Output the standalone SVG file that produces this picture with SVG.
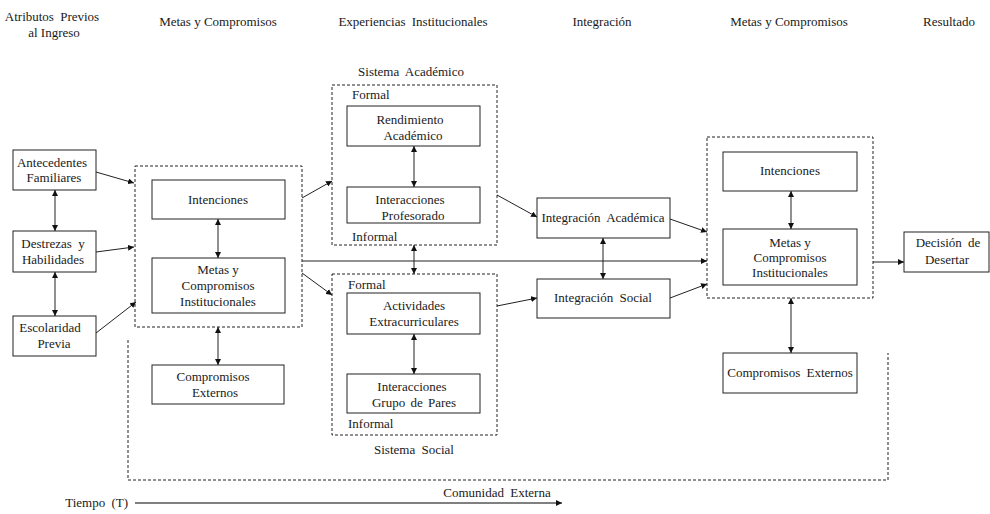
<svg xmlns="http://www.w3.org/2000/svg" width="990" height="514" viewBox="0 0 990 514" font-family="'Liberation Serif', 'Times New Roman', Times, serif">
<defs>
<marker id="ah" viewBox="0 0 10 10" refX="10" refY="5" markerWidth="6" markerHeight="6" orient="auto-start-reverse" markerUnits="userSpaceOnUse">
<path d="M0,0 L10,5 L0,10 z" fill="#111"/>
</marker>
<style>
text{font-family:'Liberation Serif','Times New Roman',Times,serif;font-size:13px;fill:#1a1a1a;text-anchor:middle}
.l{text-anchor:start}
.box{fill:#fff;stroke:#222;stroke-width:1}
.dash{fill:none;stroke:#222;stroke-width:1;stroke-dasharray:3 2}
.c{fill:none;stroke:#222;stroke-width:1}
.one{marker-end:url(#ah)}
.two{marker-start:url(#ah);marker-end:url(#ah)}
</style>
</defs>
<rect width="990" height="514" fill="#fff"/>

<g id="headers">
<text x="52" y="21" word-spacing="3">Atributos Previos</text>
<text x="54" y="37">al Ingreso</text>
<text x="218" y="26">Metas y Compromisos</text>
<text x="413" y="26" word-spacing="3">Experiencias Institucionales</text>
<text x="602" y="26">Integración</text>
<text x="789" y="26">Metas y Compromisos</text>
<text x="949" y="26">Resultado</text>
</g>

<g id="comunidad-externa">
<path class="dash" d="M128,340 V480 H888 V353"/>
<text x="497" y="497" word-spacing="3">Comunidad Externa</text>
</g>

<g id="tiempo">
<text x="128" y="507" word-spacing="3" style="text-anchor:end">Tiempo (T)</text>
<line x1="135" y1="503" x2="562" y2="503" stroke="#808080" stroke-width="2" marker-end="url(#ah)"/>
</g>

<g id="antecedentes">
<rect class="box" x="13" y="150" width="83" height="40"/>
<text x="52" y="167">Antecedentes</text>
<text x="54" y="182">Familiares</text>
</g>
<g id="destrezas">
<rect class="box" x="13" y="231" width="83" height="41"/>
<text x="53" y="248" word-spacing="3">Destrezas y</text>
<text x="53" y="264">Habilidades</text>
</g>
<g id="escolaridad">
<rect class="box" x="13" y="316" width="83" height="40"/>
<text x="50" y="332">Escolaridad</text>
<text x="54" y="348">Previa</text>
</g>

<g id="metas1">
<rect class="dash" x="135" y="166" width="167" height="161"/>
</g>
<g id="intenciones1">
<rect class="box" x="152" y="180" width="133" height="39"/>
<text x="218" y="204">Intenciones</text>
</g>
<g id="metas-inst1">
<rect class="box" x="152" y="258" width="133" height="55"/>
<text x="218" y="274">Metas y</text>
<text x="218" y="290">Compromisos</text>
<text x="218" y="306">Institucionales</text>
</g>
<g id="compromisos-ext1">
<rect class="box" x="152" y="365" width="132" height="39"/>
<text x="213" y="381">Compromisos</text>
<text x="215" y="397">Externos</text>
</g>

<g id="sistema-academico">
<text x="411" y="76" word-spacing="3">Sistema Académico</text>
<rect class="dash" x="332" y="85" width="165" height="160"/>
<text class="l" x="352" y="99">Formal</text>
<text class="l" x="352" y="241">Informal</text>
</g>
<g id="rendimiento">
<rect class="box" x="347" y="106" width="133" height="40"/>
<text x="410" y="124">Rendimiento</text>
<text x="413" y="140">Académico</text>
</g>
<g id="interacciones-prof">
<rect class="box" x="347" y="187" width="133" height="36"/>
<text x="410" y="204">Interacciones</text>
<text x="413" y="220">Profesorado</text>
</g>

<g id="sistema-social">
<rect class="dash" x="332" y="274" width="165" height="161"/>
<text class="l" x="348" y="289">Formal</text>
<text class="l" x="348" y="428">Informal</text>
<text x="414" y="454" word-spacing="3">Sistema Social</text>
</g>
<g id="actividades">
<rect class="box" x="347" y="293" width="133" height="41"/>
<text x="414" y="310">Actividades</text>
<text x="414" y="326">Extracurriculares</text>
</g>
<g id="interacciones-pares">
<rect class="box" x="347" y="374" width="133" height="39"/>
<text x="412" y="391">Interacciones</text>
<text x="414" y="407" word-spacing="2">Grupo de Pares</text>
</g>

<g id="integracion-academica">
<rect class="box" x="537" y="198" width="133" height="40"/>
<text x="603" y="222" word-spacing="3">Integración Académica</text>
</g>
<g id="integracion-social">
<rect class="box" x="537" y="279" width="133" height="39"/>
<text x="603" y="302" word-spacing="3">Integración Social</text>
</g>

<g id="metas2">
<rect class="dash" x="707" y="137" width="166" height="161"/>
</g>
<g id="intenciones2">
<rect class="box" x="723" y="152" width="134" height="39"/>
<text x="790" y="175">Intenciones</text>
</g>
<g id="metas-inst2">
<rect class="box" x="723" y="229" width="134" height="56"/>
<text x="790" y="247">Metas y</text>
<text x="790" y="262">Compromisos</text>
<text x="790" y="277">Institucionales</text>
</g>
<g id="compromisos-ext2">
<rect class="box" x="723" y="353" width="134" height="40"/>
<text x="790" y="377" word-spacing="3">Compromisos Externos</text>
</g>
<g id="decision">
<rect class="box" x="904" y="232" width="85" height="40"/>
<text x="948" y="247" word-spacing="3">Decisión de</text>
<text x="947" y="264">Desertar</text>
</g>

<g id="connectors">
<line class="c one" x1="96" y1="172" x2="134" y2="183"/>
<line class="c one" x1="96" y1="252" x2="134" y2="247"/>
<line class="c one" x1="96" y1="333" x2="136" y2="302"/>
<line class="c two" x1="55" y1="190" x2="55" y2="231"/>
<line class="c two" x1="55" y1="272" x2="55" y2="316"/>
<line class="c two" x1="218" y1="219" x2="218" y2="258"/>
<line class="c two" x1="218" y1="327" x2="218" y2="365"/>
<line class="c one" x1="302" y1="198" x2="332" y2="181"/>
<line class="c one" x1="302" y1="273" x2="332" y2="295"/>
<line class="c one" x1="302" y1="261" x2="707" y2="261"/>
<line class="c two" x1="414" y1="146" x2="414" y2="187"/>
<line class="c two" x1="414" y1="245" x2="414" y2="274"/>
<line class="c two" x1="414" y1="334" x2="414" y2="374"/>
<line class="c one" x1="497" y1="195" x2="537" y2="217"/>
<line class="c one" x1="497" y1="306" x2="537" y2="298"/>
<line class="c two" x1="603" y1="238" x2="603" y2="279"/>
<line class="c one" x1="670" y1="219" x2="707" y2="232"/>
<line class="c one" x1="670" y1="298" x2="707" y2="284"/>
<line class="c two" x1="791" y1="191" x2="791" y2="229"/>
<line class="c two" x1="791" y1="298" x2="791" y2="353"/>
<line class="c one" x1="873" y1="262" x2="904" y2="262"/>
</g>
</svg>
